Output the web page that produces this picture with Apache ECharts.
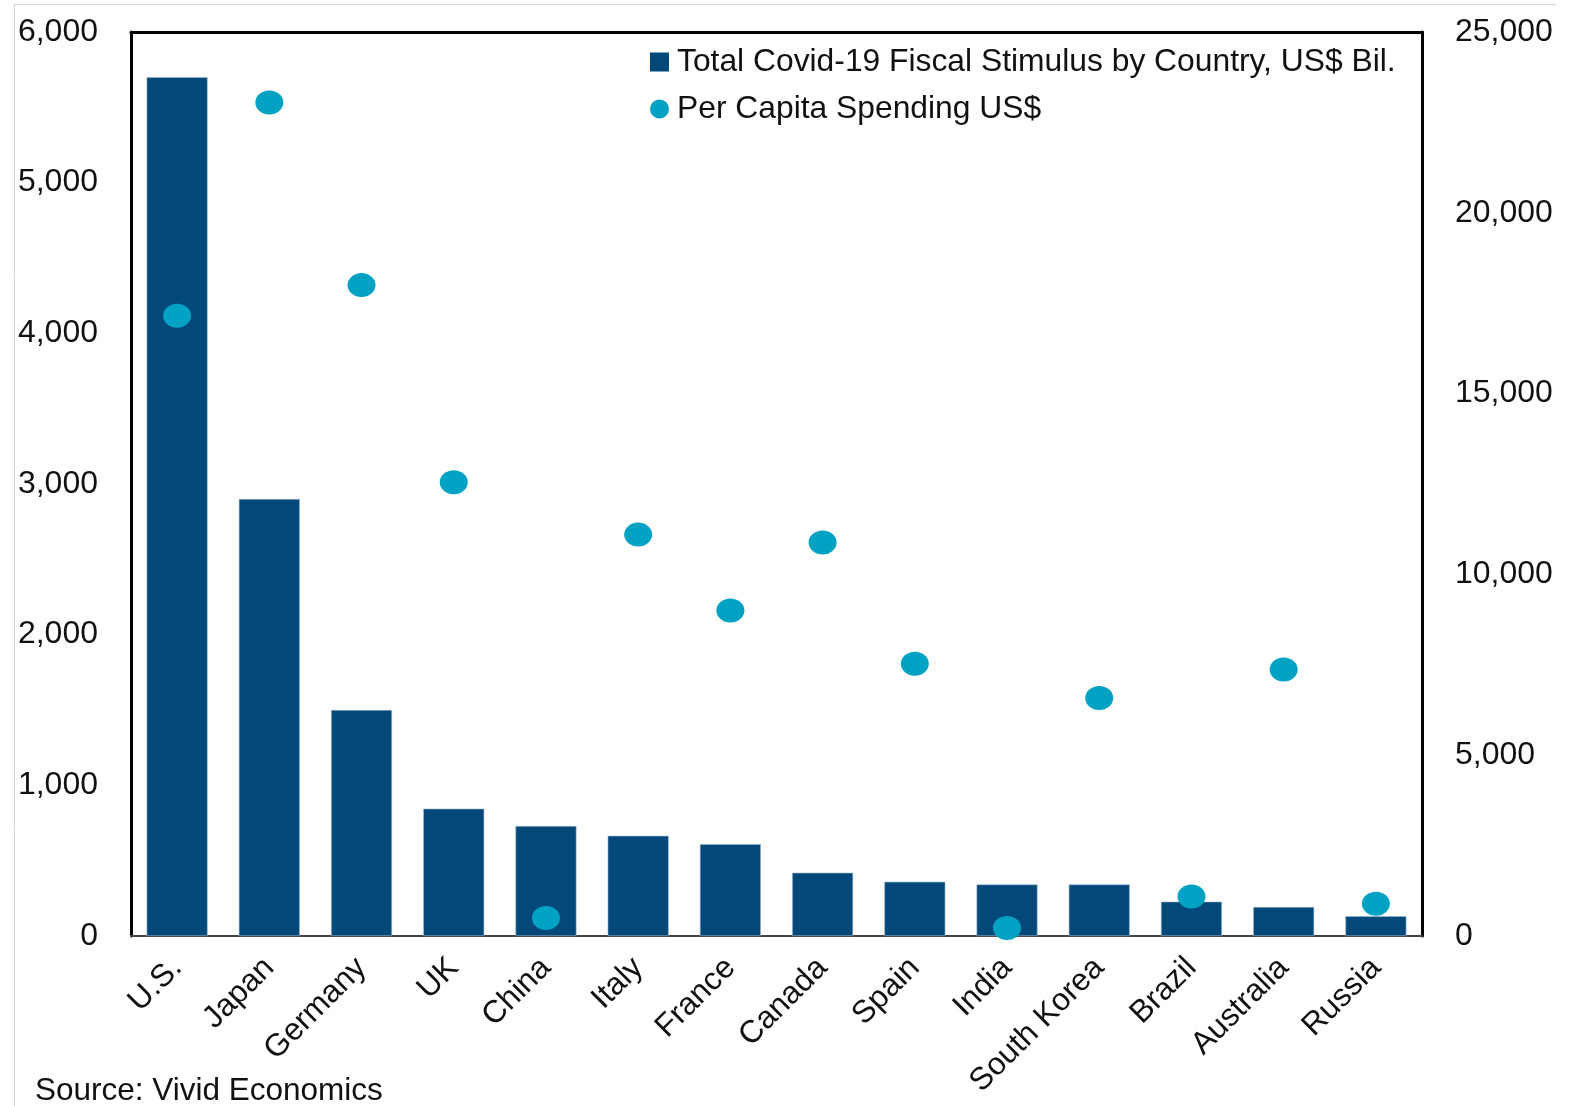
<!DOCTYPE html>
<html>
<head>
<meta charset="utf-8">
<style>
  html, body { margin: 0; padding: 0; background: #ffffff; }
  #chart { width: 1581px; height: 1106px; }
</style>
<script src="https://cdn.jsdelivr.net/npm/echarts@6/dist/echarts.min.js"></script>
</head>
<body>
<div id="chart"></div>
<script>
// Countries along the horizontal axis
const countries = ['U.S.', 'Japan', 'Germany', 'UK', 'China', 'Italy', 'France',
  'Canada', 'Spain', 'India', 'South Korea', 'Brazil', 'Australia', 'Russia'];

// Total Covid-19 fiscal stimulus, US$ billions (left axis)
const stimulusBil = [5700, 2900, 1500, 845, 730, 665, 610, 420, 360, 342, 342, 228, 192, 132];

// Per capita spending, US$ (right axis)
const perCapita = [17150, 23050, 18000, 12550, 500, 11100, 9000, 10880, 7530, 220, 6580, 1090, 7370, 890];

// Axis ranges and tick steps
const leftAxis = { min: 0, max: 6000, interval: 1000 };
const rightAxis = { min: 0, max: 25000, interval: 5000 };

const barName = 'Total Covid-19 Fiscal Stimulus by Country, US$ Bil.';
const dotName = 'Per Capita Spending US$';

const FONT = '"Liberation Sans", Arial, sans-serif';
const fmt = v => v.toLocaleString('en-US');

const chart = echarts.init(document.getElementById('chart'), null, { renderer: 'canvas' });

chart.setOption({
  backgroundColor: '#ffffff',
  animation: false,
  textStyle: { fontFamily: FONT },
  grid: { left: 131, right: 159, top: 32, bottom: 170, containLabel: false },
  legend: {
    orient: 'vertical',
    left: 645,
    top: 39,
    itemWidth: 19,
    itemHeight: 19,
    itemGap: 11,
    itemStyle: { borderWidth: 0 },
    textStyle: { fontFamily: FONT, fontSize: 31.8, color: '#111', lineHeight: 36, padding: [0, 0, 0, 3] },
    data: [{ name: barName, icon: 'rect' }, { name: dotName, icon: 'circle' }]
  },
  xAxis: [
    {
      type: 'category',
      data: countries,
      position: 'bottom',
      axisLine: { show: true, onZero: false, lineStyle: { color: '#444', width: 2 } },
      axisTick: { show: false },
      axisLabel: { rotate: 45, fontSize: 31.5, color: '#111', margin: 27, interval: 0, fontFamily: FONT }
    },
    {
      // top frame edge of the plot
      type: 'category',
      data: countries,
      position: 'top',
      axisLine: { show: true, onZero: false, lineStyle: { color: '#000', width: 3 } },
      axisTick: { show: false },
      axisLabel: { show: false }
    }
  ],
  yAxis: [
    {
      type: 'value',
      position: 'left',
      min: leftAxis.min, max: leftAxis.max, interval: leftAxis.interval,
      axisLine: { show: true, onZero: false, lineStyle: { color: '#000', width: 3 } },
      axisTick: { show: false },
      splitLine: { show: false },
      axisLabel: { fontSize: 32, color: '#111', margin: 33, formatter: fmt, fontFamily: FONT }
    },
    {
      type: 'value',
      position: 'right',
      min: rightAxis.min, max: rightAxis.max, interval: rightAxis.interval,
      axisLine: { show: true, onZero: false, lineStyle: { color: '#000', width: 3 } },
      axisTick: { show: false },
      splitLine: { show: false },
      axisLabel: { fontSize: 32, color: '#111', margin: 33, formatter: fmt, fontFamily: FONT }
    }
  ],
  series: [
    {
      name: barName,
      type: 'bar',
      xAxisIndex: 0,
      yAxisIndex: 0,
      data: stimulusBil,
      barWidth: 61,
      itemStyle: { color: '#02497A', borderColor: '#9fb9cf', borderWidth: 0.6 }
    },
    {
      name: dotName,
      type: 'scatter',
      xAxisIndex: 0,
      yAxisIndex: 1,
      data: perCapita,
      symbol: 'circle',
      symbolSize: [28, 24],
      itemStyle: { color: '#00A2C3', opacity: 1 },
      z: 5
    }
  ],
  graphic: [
    {
      type: 'text',
      left: 35,
      top: 1075,
      style: { text: 'Source: Vivid Economics', font: '31.5px ' + FONT, fill: '#111' }
    },
    {
      type: 'line',
      shape: { x1: 14, y1: 4.5, x2: 1556, y2: 4.5 },
      style: { stroke: '#d4d4d4', lineWidth: 1 }
    },
    {
      type: 'line',
      shape: { x1: 14.5, y1: 4, x2: 14.5, y2: 1106 },
      style: { stroke: '#d4d4d4', lineWidth: 1 }
    }
  ]
});
</script>
</body>
</html>
